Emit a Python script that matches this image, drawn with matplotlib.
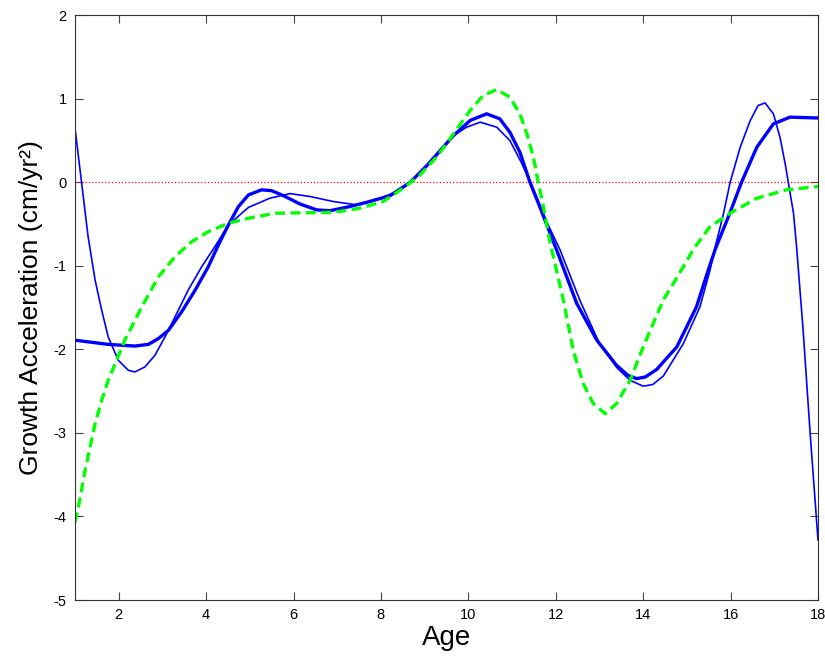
import matplotlib
matplotlib.use('Agg')
import matplotlib.pyplot as plt

"""Growth acceleration curves read off the reference chart"""

# thick blue curve
mean_age = [1.0, 1.76, 2.37, 2.68, 2.91, 3.14, 3.44, 3.75, 4.05, 4.28, 4.51,
            4.74, 4.97, 5.27, 5.5, 5.77, 6.15, 6.53, 6.83, 7.29, 7.67, 8.21,
            8.67, 9.05, 9.66, 10.04, 10.42, 10.72, 10.95, 11.18, 11.41, 11.64,
            12.02, 12.48, 12.94, 13.39, 13.65, 13.85, 14.05, 14.31, 14.77, 15.22,
            15.49, 15.65, 15.99, 16.25, 16.6, 16.98, 17.36, 18.0]
mean_acc = [-1.89, -1.94, -1.96, -1.94, -1.87, -1.77, -1.55, -1.29, -1.01, -0.75,
            -0.51, -0.29, -0.15, -0.09, -0.1, -0.16, -0.26, -0.33, -0.34, -0.29,
            -0.24, -0.16, 0.0, 0.2, 0.56, 0.74, 0.82, 0.76, 0.6, 0.36, 0.0, -0.3,
            -0.81, -1.45, -1.89, -2.19, -2.31, -2.35, -2.33, -2.24, -1.97, -1.49,
            -1.05, -0.8, -0.36, 0.0, 0.42, 0.7, 0.78, 0.77]

# thin blue curve
thin_age = [1.0, 1.15, 1.3, 1.46, 1.61, 1.76, 1.99, 2.22, 2.37, 2.6, 2.83, 3.06,
            3.29, 3.59, 3.9, 4.2, 4.51, 4.97, 5.46, 5.92, 6.38, 6.91, 7.45, 7.9,
            8.36, 8.74, 9.2, 9.66, 9.96, 10.27, 10.65, 10.95, 11.2, 11.45, 11.8,
            12.1, 12.55, 13.0, 13.4, 13.7, 14.0, 14.22, 14.46, 14.92, 15.3, 15.53,
            15.65, 15.84, 15.99, 16.22, 16.45, 16.63, 16.79, 16.98, 17.13, 17.25,
            17.32, 17.44, 17.51, 17.66, 17.82, 18.0]
thin_acc = [0.65, 0.0, -0.65, -1.17, -1.53, -1.85, -2.13, -2.25, -2.27, -2.21,
            -2.07, -1.85, -1.61, -1.29, -1.01, -0.77, -0.51, -0.3, -0.19, -0.135,
            -0.17, -0.23, -0.27, -0.21, -0.11, 0.03, 0.27, 0.56, 0.66, 0.72, 0.66,
            0.5, 0.25, -0.03, -0.48, -0.81, -1.41, -1.93, -2.22, -2.37, -2.44,
            -2.42, -2.32, -1.93, -1.49, -1.05, -0.77, -0.37, 0.0, 0.42, 0.74,
            0.92, 0.95, 0.82, 0.54, 0.22, 0.0, -0.37, -0.77, -1.77, -3.0, -4.28]

# green dashed curve
green_age = [1.0, 1.08, 1.23, 1.46, 1.61, 1.76, 1.92, 2.14, 2.53, 2.91, 3.29,
             3.67, 4.05, 4.51, 4.97, 5.58, 6.2, 6.91, 7.52, 8.05, 8.51, 8.89, 9.3,
             9.66, 10.04, 10.34, 10.65, 10.95, 11.18, 11.34, 11.49, 11.6, 11.72,
             11.87, 12.17, 12.4, 12.63, 12.86, 13.13, 13.39, 13.7, 14.0, 14.46,
             14.92, 15.15, 15.53, 15.99, 16.6, 17.28, 18.0]
green_acc = [-4.07, -3.88, -3.45, -2.89, -2.61, -2.37, -2.17, -1.89, -1.49, -1.13,
             -0.89, -0.71, -0.59, -0.49, -0.43, -0.37, -0.365, -0.36, -0.31, -0.23,
             -0.07, 0.085, 0.32, 0.58, 0.86, 1.04, 1.11, 1.02, 0.82, 0.58, 0.3,
             0.0, -0.3, -0.72, -1.4, -2.01, -2.41, -2.65, -2.77, -2.65, -2.37,
             -1.97, -1.41, -1.01, -0.8, -0.53, -0.37, -0.19, -0.09, -0.05]

x_ticks = [2, 4, 6, 8, 10, 12, 14, 16, 18]
y_ticks = [-5, -4, -3, -2, -1, 0, 1, 2]


def plot_data() -> None:
    plt.rcParams['font.family'] = ['Liberation Sans', 'DejaVu Sans']
    plt.rcParams['axes.unicode_minus'] = False
    fig = plt.figure(figsize=(8.25, 6.6), dpi=100)
    ax = fig.add_axes([0.0909, 0.0909, 0.9006, 0.886])

    ax.plot([1, 18], [0, 0], color='red', linestyle=':', linewidth=0.9)
    ax.plot(thin_age, thin_acc, color='blue', linewidth=1.2)
    ax.plot(mean_age, mean_acc, color='blue', linewidth=2.4)
    ax.plot(green_age, green_acc, color='#00ff00', linewidth=2.4,
            linestyle=(0, (3.0, 1.6)))

    ax.set_xlim(1, 18)
    ax.set_ylim(-5, 2)
    ax.set_xticks(x_ticks)
    ax.set_yticks(y_ticks)
    ax.tick_params(direction='in', top=True, right=True, length=6,
                   width=0.8, color='#444444', labelsize=10.5, pad=6)
    for spine in ax.spines.values():
        spine.set_color('#333333')
        spine.set_linewidth(0.8)

    ax.set_xlabel('Age', fontsize=20, labelpad=2)
    ax.set_ylabel('Growth Acceleration (cm/yr²)', fontsize=19, labelpad=8)

    fig.savefig('out.png')


if __name__ == '__main__':
    plot_data()
